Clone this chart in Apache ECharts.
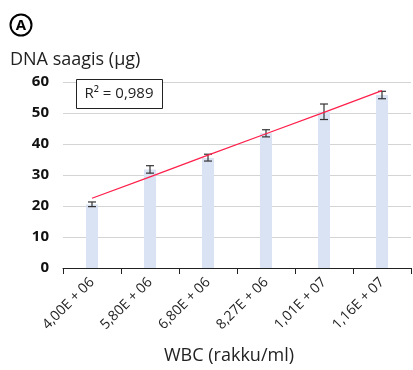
<!DOCTYPE html>
<html><head><meta charset="utf-8">
<script src="https://cdn.jsdelivr.net/npm/echarts@6/dist/echarts.min.js"></script>
<style>html,body{margin:0;padding:0;background:#fff}#c{width:413px;height:370px}</style>
</head><body><div id="c"></div>
<script>
const categories = ['4,00E + 06','5,80E + 06','6,80E + 06','8,27E + 06','1,01E + 07','1,16E + 07'];
const dnaYield = [20.5, 31.8, 35.5, 43.5, 50.4, 55.8];
const errLow = [19.8, 30.6, 34.5, 42.3, 47.9, 54.6];
const errHigh = [21.3, 33.0, 36.7, 44.6, 52.9, 57.0];
const trend = [22.5, 29.4, 36.4, 43.3, 50.2, 57.2];
const yTicks = [0, 10, 20, 30, 40, 50, 60];
const r2Text = 'R² = 0,989';

const FONT = '"Open Sans", "DejaVu Sans", sans-serif';
const chart = echarts.init(document.getElementById('c'), null, {renderer: 'canvas'});
const errData = categories.map((c, i) => [i, errLow[i], errHigh[i]]);
chart.setOption({
  animation: false,
  textStyle: {fontFamily: FONT},
  grid: {left: 63, right: 2, top: 82, bottom: 102, containLabel: false},
  graphic: [
    {type: 'circle', shape: {cx: 21, cy: 25, r: 10.5}, style: {fill: '#fff', stroke: '#000', lineWidth: 2}},
    {type: 'text', x: 21, y: 25.5, style: {text: 'A', fontSize: 15, fontWeight: 'bold', fontFamily: FONT, fill: '#000', align: 'center', verticalAlign: 'middle'}},
    {type: 'text', x: 10, y: 60, style: {text: 'DNA saagis (µg)', fontSize: 18, fontFamily: FONT, fill: '#222', verticalAlign: 'middle'}},
    {type: 'rect', shape: {x: 76.5, y: 79.5, width: 86, height: 29}, style: {fill: '#fff', stroke: '#222', lineWidth: 1}, z: 10},
    {type: 'text', x: 119, y: 94, style: {text: r2Text, fontSize: 15, fontFamily: FONT, fill: '#222', align: 'center', verticalAlign: 'middle'}, z: 11},
    {type: 'text', x: 229, y: 356, style: {text: 'WBC (rakku/ml)', fontSize: 18, fontFamily: FONT, fill: '#222', align: 'center', verticalAlign: 'middle'}}
  ],
  xAxis: {
    type: 'category', data: categories, boundaryGap: true,
    axisLine: {lineStyle: {color: '#222', width: 1}},
    axisTick: {show: true, length: 6, lineStyle: {color: '#222'}, alignWithLabel: false},
    axisLabel: {rotate: 45, fontSize: 14, color: '#222', margin: 12, fontFamily: FONT}
  },
  yAxis: {
    type: 'value', min: 0, max: 60, interval: 10,
    axisLine: {show: false}, axisTick: {show: false},
    splitLine: {lineStyle: {color: '#d4d4d4', width: 1}},
    axisLabel: {fontSize: 15, fontWeight: 'bold', color: '#111', margin: 14, fontFamily: FONT,
      formatter: v => yTicks.includes(v) ? String(v) : ''}
  },
  series: [
    {type: 'bar', data: dnaYield, barWidth: 12, itemStyle: {color: '#dae3f3'}},
    {type: 'custom', data: errData, z: 5,
      renderItem: function (params, api) {
        const x = api.value(0);
        const lo = api.coord([x, api.value(1)]);
        const hi = api.coord([x, api.value(2)]);
        const w = 4;
        return {type: 'group', children: [
          {type: 'line', shape: {x1: lo[0], y1: lo[1], x2: hi[0], y2: hi[1]}, style: {stroke: '#333', lineWidth: 1.2}},
          {type: 'line', shape: {x1: lo[0]-w, y1: lo[1], x2: lo[0]+w, y2: lo[1]}, style: {stroke: '#333', lineWidth: 1.2}},
          {type: 'line', shape: {x1: hi[0]-w, y1: hi[1], x2: hi[0]+w, y2: hi[1]}, style: {stroke: '#333', lineWidth: 1.2}}
        ]};
      }
    },
    {type: 'line', data: trend, symbol: 'none', z: 6, lineStyle: {color: '#ff1f4b', width: 1.2}}
  ]
});
</script></body></html>
